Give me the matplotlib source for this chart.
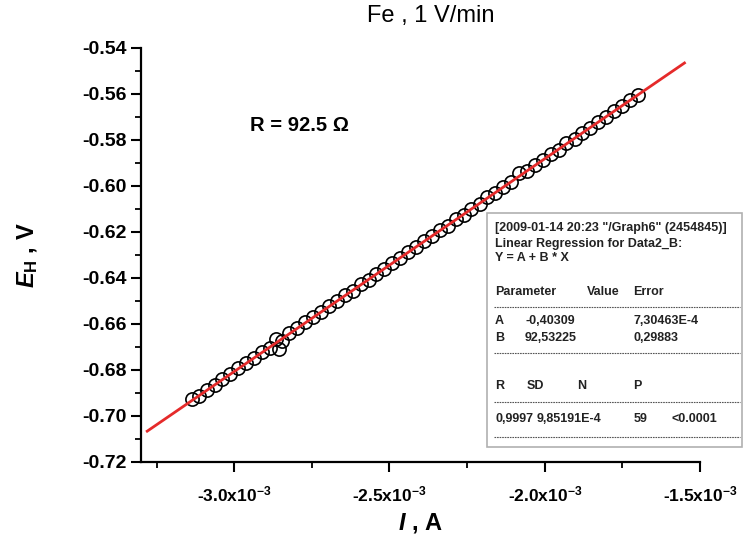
import numpy as np
import matplotlib
matplotlib.use('Agg')
import matplotlib.pyplot as plt
from matplotlib.ticker import MultipleLocator, FixedLocator

# measured points (current in mA, potential in V)
current_mA = [-3.137, -3.112, -3.088, -3.063, -3.038, -3.012, -2.987, -2.961, -2.936, -2.910,
              -2.885, -2.866, -2.857, -2.846, -2.822, -2.797, -2.771, -2.746, -2.720, -2.695,
              -2.669, -2.644, -2.618, -2.593, -2.567, -2.542, -2.516, -2.491, -2.465, -2.440,
              -2.414, -2.389, -2.363, -2.338, -2.312, -2.287, -2.261, -2.236, -2.210, -2.185,
              -2.159, -2.134, -2.108, -2.083, -2.057, -2.032, -2.006, -1.981, -1.955, -1.930,
              -1.904, -1.879, -1.853, -1.828, -1.802, -1.777, -1.751, -1.726, -1.700]
potential = [-0.6925, -0.6912, -0.6886, -0.6864, -0.6840, -0.6816, -0.6793, -0.6769, -0.6749, -0.6722,
             -0.6706, -0.6664, -0.6708, -0.6672, -0.6638, -0.6617, -0.6592, -0.6571, -0.6549, -0.6522,
             -0.6502, -0.6475, -0.6455, -0.6428, -0.6408, -0.6381, -0.6361, -0.6333, -0.6314, -0.6287,
             -0.6267, -0.6239, -0.6219, -0.6192, -0.6172, -0.6145, -0.6125, -0.6098, -0.6078, -0.6050,
             -0.6031, -0.6004, -0.5983, -0.5945, -0.5936, -0.5909, -0.5889, -0.5862, -0.5842, -0.5815,
             -0.5795, -0.5768, -0.5748, -0.5720, -0.5700, -0.5673, -0.5653, -0.5626, -0.5606]

# linear regression result Y = A + B*X
fit_A = -0.40309
fit_B = 92.53225
fit_range_mA = [-3.28, -1.55]

xtick_vals = [-3.0e-3, -2.5e-3, -2.0e-3, -1.5e-3]
xtick_labels = [r'-3.0x10$^{\mathbf{-3}}$', r'-2.5x10$^{\mathbf{-3}}$',
                r'-2.0x10$^{\mathbf{-3}}$', r'-1.5x10$^{\mathbf{-3}}$']

report_header = ['[2009-01-14 20:23 "/Graph6" (2454845)]',
                 'Linear Regression for Data2_B:',
                 'Y = A + B * X']
param_cols = ['Parameter', 'Value', 'Error']
param_rows = [['A', '-0,40309', '7,30463E-4'],
              ['B', '92,53225', '0,29883']]
stat_cols = ['R', 'SD', 'N', 'P']
stat_row = ['0,9997', '9,85191E-4', '59', '<0.0001']

plt.rcParams['font.family'] = ['Liberation Sans', 'DejaVu Sans']
plt.rcParams['mathtext.fontset'] = 'custom'
plt.rcParams['mathtext.rm'] = 'Liberation Sans'
plt.rcParams['mathtext.it'] = 'Liberation Sans:italic:bold'
plt.rcParams['mathtext.bf'] = 'Liberation Sans:bold'

fig = plt.figure(figsize=(7.44, 5.40), dpi=100)
ax = fig.add_axes([141/744, 78/540, 559/744, 414/540])

x = np.array(current_mA) * 1e-3
y = np.array(potential)
ax.plot(x, y, 'o', mfc='none', mec='black', ms=9.5, mew=1.2, zorder=2)

xf = np.array(fit_range_mA) * 1e-3
ax.plot(xf, fit_A + fit_B * xf, color='#e52a2a', lw=2.0, zorder=3)

ax.set_xlim(-3.3e-3, -1.5e-3)
ax.set_ylim(-0.72, -0.54)
ax.spines['top'].set_visible(False)
ax.spines['right'].set_visible(False)
for s in ['left', 'bottom']:
    ax.spines[s].set_linewidth(1.6)

ax.xaxis.set_major_locator(FixedLocator(xtick_vals))
ax.set_xticklabels(xtick_labels)
ax.xaxis.set_minor_locator(MultipleLocator(0.25e-3))
ax.yaxis.set_major_locator(MultipleLocator(0.02))
ax.yaxis.set_minor_locator(MultipleLocator(0.01))
ax.yaxis.set_major_formatter(matplotlib.ticker.FormatStrFormatter('%.2f'))
ax.tick_params(which='major', direction='out', length=7, width=1.5)
ax.tick_params(which='minor', direction='out', length=4, width=1.3)
ax.tick_params(axis='x', labelsize=12.5, pad=9)
ax.tick_params(axis='y', labelsize=14, pad=3)
for lab in ax.get_xticklabels() + ax.get_yticklabels():
    lab.set_fontweight('bold')

ax.set_xlabel(r'$I$ , A', fontsize=17, fontweight='bold', labelpad=5)
ax.set_ylabel(r'$E_{\mathbf{H}}$ , V', fontsize=17, fontweight='bold', labelpad=31)

fig.text(431/744, 1 - 16/540, 'Fe , 1 V/min', ha='center', va='center', fontsize=17)
ax.text(0.195, 0.8116, 'R = 92.5 ' + '\u03A9', transform=ax.transAxes, fontsize=14.5,
        fontweight='bold', ha='left', va='center')

# regression report box (figure pixel coordinates)
def fx(px):
    return px / 744

def fy(py):
    return 1 - py / 540

box = plt.Rectangle((fx(487), fy(447)), fx(742) - fx(487), fy(213) - fy(447),
                    transform=fig.transFigure, facecolor='white', edgecolor='#b0b0b0', lw=1.2)
fig.patches.append(box)

kw = dict(fontsize=9, color='#222222', va='center', ha='left', fontweight='bold')
for line, py in zip(report_header, [228, 243.5, 258.5]):
    fig.text(fx(495), fy(py), line, **kw)
for txt, px in zip(param_cols, [495, 587, 633]):
    fig.text(fx(px), fy(292), txt, **kw)
for row, py in zip(param_rows, [321, 338]):
    for txt, px in zip(row, [495, 525, 633]):
        fig.text(fx(px), fy(py), txt, **kw)
for txt, px in zip(stat_cols, [495, 527, 577, 633]):
    fig.text(fx(px), fy(386), txt, **kw)
for txt, px in zip(stat_row, [495, 537, 634, 672]):
    fig.text(fx(px), fy(419), txt, **kw)
for py in [307, 353, 402, 437]:
    fig.add_artist(plt.Line2D([fx(494), fx(740)], [fy(py), fy(py)], transform=fig.transFigure,
                              color='#555555', lw=0.8, ls=(0, (1.5, 0.8))))

fig.savefig('out.png', dpi=100)
